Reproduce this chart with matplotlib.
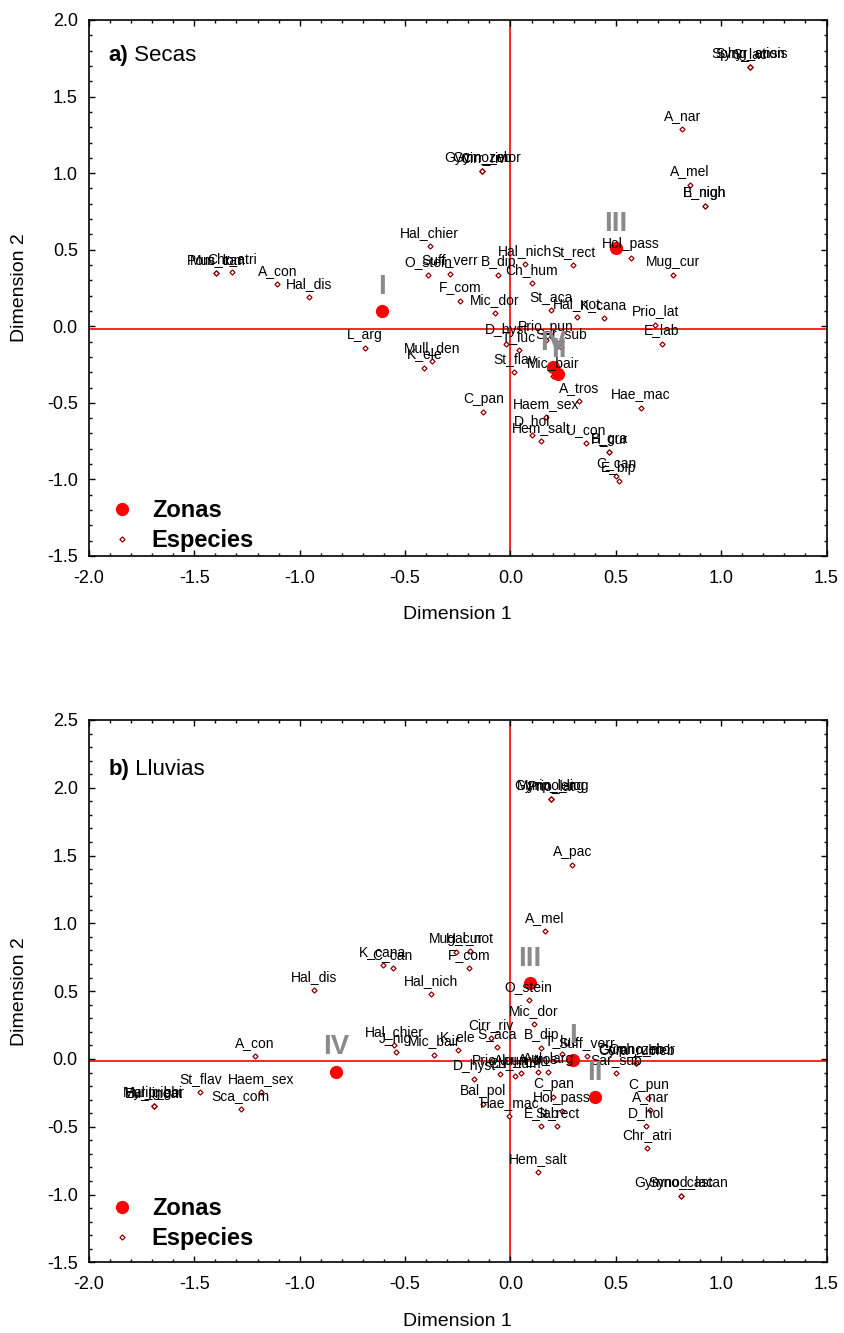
import matplotlib
matplotlib.use('Agg')
import matplotlib.pyplot as plt
from matplotlib.ticker import MultipleLocator, FormatStrFormatter

plt.rcParams['font.family'] = ['Liberation Sans', 'DejaVu Sans']

# a) Secas - especies
esp_a = ['Pom_can', 'Mus_lon', 'Chr_atri', 'A_con', 'Hal_dis', 'L_arg',
         'Gymno_mor', 'Cirr_riv', 'Gym_zeb', 'A_mel', 'B_nigh', 'E_nigh',
         'A_nar', 'Sphyr_ensis', 'Syng_ation', 'S_lac', 'Hal_chier',
         'O_stein', 'Suff_verr', 'B_dip', 'Hal_nich', 'St_rect', 'Ch_hum',
         'F_com', 'Mic_dor', 'St_aca', 'Hal_not', 'K_cana', 'Hol_pass',
         'Mug_cur', 'Prio_lat', 'E_lab', 'D_hyst', 'T_luc', 'Prio_pun',
         'Sar_sub', 'St_flav', 'Mic_bair', 'A_tros', 'Mull_den', 'K_ele',
         'C_pan', 'Haem_sex', 'D_hol', 'Hem_salt', 'U_con', 'B_gra', 'H_cur',
         'C_can', 'E_bip', 'Hae_mac']
x_a = [-1.395, -1.395, -1.319, -1.106, -0.955, -0.689,
       -0.133, -0.133, -0.133, 0.853, 0.922, 0.922,
       0.815, 1.136, 1.136, 1.136, -0.384,
       -0.392, -0.286, -0.058, 0.071, 0.299, 0.102,
       -0.240, -0.073, 0.193, 0.315, 0.443, 0.573,
       0.771, 0.687, 0.718, -0.020, 0.041, 0.169,
       0.241, 0.019, 0.201, 0.324, -0.370, -0.408,
       -0.128, 0.169, 0.102, 0.147, 0.359, 0.468, 0.468,
       0.502, 0.513, 0.619]
y_a = [0.346, 0.346, 0.355, 0.273, 0.190, -0.142,
       1.011, 1.011, 1.011, 0.925, 0.784, 0.784,
       1.288, 1.691, 1.691, 1.691, 0.523,
       0.333, 0.344, 0.333, 0.405, 0.397, 0.283,
       0.168, 0.085, 0.107, 0.061, 0.052, 0.449,
       0.333, 0.011, -0.113, -0.113, -0.157, -0.092,
       -0.137, -0.299, -0.327, -0.488, -0.227, -0.270,
       -0.562, -0.595, -0.708, -0.750, -0.763, -0.824, -0.824,
       -0.980, -1.011, -0.531]
zonas_a = ['I', 'III', 'IV', 'II']
zx_a = [-0.610, 0.500, 0.204, 0.228]
zy_a = [0.100, 0.512, -0.266, -0.314]

# b) Lluvias - especies
esp_b = ['A_con', 'Myrip_bor', 'Eu_lineat', 'Hal_gighi', 'St_flav',
         'Haem_sex', 'Sca_com', 'Hal_dis', 'A_mel', 'Mug_cur', 'Hal_not',
         'K_cana', 'C_can', 'F_com', 'Hal_nich', 'O_stein', 'Mic_dor',
         'Cirr_riv', 'S_aca', 'B_dip', 'Hal_chier', 'J_nig', 'Mic_bair',
         'K_ele', 'D_hyst', 'Prio_pun', 'Ch_hum', 'Alu_mon', 'A_tros',
         'Aul_larg', 'T_luc', 'Suff_verr', 'Gymno_mor', 'Cora_rubieb',
         'Oph_zeb', 'Sar_sub', 'C_pun', 'A_nar', 'D_hol', 'Chr_atri',
         'Gymno_castan', 'Synod_lac', 'Hem_salt', 'C_pan', 'Hol_pass',
         'E_lab', 'St_rect', 'Hae_mac', 'Bal_pol', 'A_pac', 'Myrip_leng',
         'Prio_lat', 'Gymno_liog']
x_b = [-1.213, -1.691, -1.691, -1.691, -1.471,
       -1.183, -1.280, -0.932, 0.162, -0.258, -0.191,
       -0.606, -0.558, -0.195, -0.378, 0.087, 0.111,
       -0.093, -0.065, 0.146, -0.551, -0.544, -0.362,
       -0.248, -0.172, -0.051, 0.020, 0.051, 0.131,
       0.179, 0.243, 0.364, 0.597, 0.597,
       0.597, 0.502, 0.654, 0.663, 0.643, 0.647,
       0.809, 0.809, 0.133, 0.203, 0.245,
       0.147, 0.223, -0.005, -0.128, 0.293, 0.193,
       0.193, 0.193]
y_b = [0.019, -0.350, -0.350, -0.350, -0.242,
       -0.246, -0.372, 0.508, 0.943, 0.788, 0.798,
       0.692, 0.668, 0.668, 0.479, 0.434, 0.257,
       0.152, 0.090, 0.078, 0.103, 0.053, 0.032,
       0.066, -0.148, -0.111, -0.124, -0.104, -0.099,
       -0.099, 0.036, 0.021, -0.032, -0.032,
       -0.032, -0.102, -0.291, -0.377, -0.493, -0.655,
       -1.011, -1.011, -0.832, -0.281, -0.384,
       -0.493, -0.493, -0.419, -0.333, 1.428, 1.914,
       1.914, 1.914]
zonas_b = ['I', 'II', 'III', 'IV']
zx_b = [0.296, 0.402, 0.093, -0.827]
zy_b = [-0.008, -0.283, 0.558, -0.094]


def panel(ax, nombres, xs, ys, zonas, zx, zy, letra, epoca, ymax, leg_y):
    ax.axhline(-0.015, color='red', lw=1.2, zorder=1)
    ax.axvline(0, color='red', lw=1.2, zorder=1)
    ax.plot(xs, ys, 'D', ms=2.6, mfc='white', mec='#8b0000', mew=0.9,
            ls='none', label='Especies', zorder=3)
    ax.plot(zx, zy, 'o', color='red', ms=8.5, ls='none', label='Zonas',
            zorder=4)
    for n, x, y in zip(nombres, xs, ys):
        ax.annotate(n, (x, y), xytext=(0, 9.5), textcoords='offset points',
                    ha='center', va='center', fontsize=10, zorder=5)
    for z, x, y in zip(zonas, zx, zy):
        ax.annotate(z, (x, y), xytext=(0, 17.5), textcoords='offset points',
                    ha='center', va='center', fontsize=20,
                    fontweight='bold', color='#8a8a8a', zorder=5)

    ax.set_xlim(-2.0, 1.5)
    ax.set_ylim(-1.5, ymax)
    ax.xaxis.set_major_locator(MultipleLocator(0.5))
    ax.xaxis.set_minor_locator(MultipleLocator(0.1))
    ax.yaxis.set_major_locator(MultipleLocator(0.5))
    ax.yaxis.set_minor_locator(MultipleLocator(0.1))
    ax.xaxis.set_major_formatter(FormatStrFormatter('%.1f'))
    ax.yaxis.set_major_formatter(FormatStrFormatter('%.1f'))
    ax.tick_params(which='both', direction='in', top=True, right=True,
                   width=1)
    ax.tick_params(which='major', length=4, labelsize=13)
    ax.tick_params(which='minor', length=2.5)
    ax.tick_params(axis='x', pad=10)
    ax.tick_params(axis='y', pad=8)
    for s in ax.spines.values():
        s.set_linewidth(1.2)

    ax.set_xlabel('Dimension 1', fontsize=14)
    ax.set_ylabel('Dimension 2', fontsize=14)
    ax.xaxis.set_label_coords(0.5, -0.093)
    ax.yaxis.set_label_coords(-0.083, 0.5)

    t = ax.text(0.026, leg_y[0], letra, transform=ax.transAxes, fontsize=16,
                fontweight='bold', va='center')
    ax.annotate(' ' + epoca, xy=(1, 0.5), xycoords=t, va='center',
                fontsize=16)

    h, l = ax.get_legend_handles_labels()
    ax.legend(h[::-1], l[::-1], loc='lower left',
              bbox_to_anchor=(0.026, leg_y[1]), frameon=False,
              prop={'weight': 'bold', 'size': 17}, handlelength=1.0,
              handletextpad=0.75, borderaxespad=0, borderpad=0.1,
              labelspacing=0.3)


fig = plt.figure(figsize=(8.44, 13.33), dpi=100)
ax1 = fig.add_axes([0.1054, 0.5829, 0.8739, 0.4021])
ax2 = fig.add_axes([0.1054, 0.0530, 0.8739, 0.4069])

panel(ax1, esp_a, x_a, y_a, zonas_a, zx_a, zy_a, 'a)', 'Secas', 2.0,
      (0.934, 0.003))
panel(ax2, esp_b, x_b, y_b, zonas_b, zx_b, zy_b, 'b)', 'Lluvias', 2.5,
      (0.908, 0.018))

fig.savefig('out.png', dpi=100)
